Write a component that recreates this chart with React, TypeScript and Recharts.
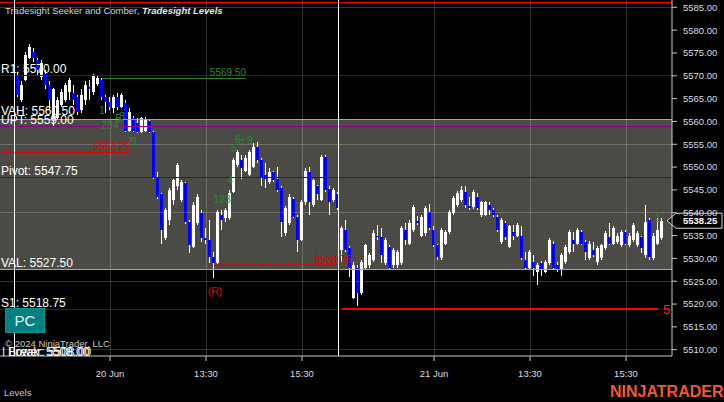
import React from 'react';
import { ComposedChart, Bar, XAxis, YAxis, ReferenceLine, ReferenceArea, ReferenceDot } from 'recharts';

// 5-minute bars, two sessions (20 Jun, 21 Jun)
const opens = [
  5570.25, 5564.75, 5569.0, 5574.0, 5575.25, 5573.5, 5569.75, 5570.5, 5568.0, 5560.25,
  5560.75, 5563.5, 5564.75, 5566.5, 5566.25, 5565.25, 5562.5, 5564.75, 5567.5, 5566.5,
  5568.25, 5569.0, 5565.25, 5564.25, 5563.0, 5565.25, 5563.25, 5564.0, 5558.0, 5560.75,
  5559.75, 5557.75, 5558.0, 5560.0, 5557.75, 5547.75, 5544.0, 5534.5, 5538.5, 5542.75,
  5545.75, 5542.75, 5546.5, 5538.0, 5532.5, 5537.75, 5540.0, 5534.5, 5534.0, 5530.25,
  5529.0, 5539.5, 5538.75, 5538.75, 5544.5, 5550.5, 5551.5, 5549.25, 5548.25, 5550.0,
  5554.5, 5551.5, 5548.25, 5546.75, 5549.0, 5547.5, 5545.5, 5535.5, 5537.75, 5543.0,
  5539.0, 5534.0, 5542.25, 5549.0, 5541.75, 5545.75, 5542.75, 5552.25, 5545.25, 5542.75,
  5544.0,
  5531.75, 5536.25, 5532.25, 5521.25, 5528.0, 5522.5, 5528.0, 5528.5, 5529.75,
  5535.0, 5534.75, 5529.0, 5532.5, 5528.5, 5528.5, 5529.0, 5536.25, 5533.25, 5536.25,
  5538.25, 5535.0, 5535.5, 5540.25, 5536.25, 5533.0, 5530.0, 5533.25, 5535.75, 5540.0,
  5541.75, 5542.75, 5544.5, 5541.5, 5541.25, 5543.5, 5539.5, 5539.5, 5541.75, 5540.5,
  5539.0, 5533.5, 5537.75, 5532.5, 5535.75, 5535.0, 5535.0, 5529.75, 5528.0, 5529.25,
  5527.0, 5529.0, 5527.0, 5529.0, 5533.25, 5528.5, 5527.5, 5529.25, 5531.5, 5534.0,
  5533.25, 5535.75, 5533.5, 5530.0, 5531.75, 5529.25, 5530.0, 5532.25, 5534.75, 5533.25,
  5533.5, 5533.0, 5535.75, 5533.0, 5534.0, 5533.0, 5534.75, 5530.75, 5538.5, 5530.0,
  5533.25, 5534.5,
];

const highs = [
  5570.75, 5568.75, 5575.25, 5577.0, 5576.0, 5574.0, 5573.5, 5571.25, 5568.75, 5567.25,
  5565.25, 5567.0, 5568.5, 5569.5, 5568.0, 5565.75, 5567.0, 5568.75, 5569.0, 5570.5,
  5570.0, 5569.5, 5565.75, 5565.25, 5565.75, 5566.25, 5566.25, 5564.75, 5563.0, 5561.25,
  5560.75, 5561.0, 5561.0, 5560.25, 5558.0, 5549.0, 5544.25, 5541.0, 5545.5, 5547.5,
  5551.0, 5547.25, 5546.75, 5538.5, 5542.25, 5544.0, 5540.5, 5536.75, 5538.5, 5531.5,
  5540.5, 5540.5, 5541.0, 5545.0, 5552.0, 5553.75, 5552.75, 5552.75, 5553.75, 5555.25,
  5555.5, 5552.0, 5551.0, 5549.75, 5549.25, 5550.0, 5545.75, 5541.5, 5544.0, 5543.5,
  5539.5, 5542.75, 5549.75, 5550.0, 5547.5, 5546.0, 5552.75, 5552.75, 5545.75, 5545.5,
  5544.5,
  5537.0, 5538.5, 5532.75, 5529.25, 5528.5, 5529.75, 5533.25, 5531.25, 5536.25,
  5537.25, 5536.75, 5534.5, 5533.0, 5532.25, 5531.75, 5537.0, 5537.75, 5538.5, 5541.75,
  5539.25, 5539.5, 5541.5, 5542.0, 5537.0, 5533.25, 5536.75, 5536.25, 5540.5, 5543.75,
  5544.75, 5545.75, 5545.75, 5543.5, 5545.0, 5544.25, 5542.5, 5542.5, 5542.25, 5541.0,
  5539.5, 5538.75, 5538.25, 5537.25, 5537.25, 5537.75, 5537.0, 5531.5, 5531.75, 5530.75,
  5529.0, 5529.5, 5529.75, 5534.5, 5533.75, 5529.25, 5531.25, 5533.0, 5536.25, 5535.75,
  5536.75, 5536.25, 5534.0, 5533.75, 5533.5, 5532.75, 5533.25, 5536.0, 5537.75, 5537.0,
  5535.5, 5536.25, 5536.25, 5535.5, 5537.75, 5536.0, 5535.0, 5541.75, 5538.75, 5535.5,
  5538.75, 5538.75,
];

const lows = [
  5565.25, 5564.25, 5568.75, 5573.75, 5573.0, 5570.25, 5569.0, 5567.0, 5562.5, 5558.75,
  5560.25, 5563.25, 5564.25, 5564.75, 5563.5, 5561.5, 5561.75, 5563.5, 5564.75, 5565.75,
  5567.75, 5564.75, 5561.75, 5562.5, 5561.75, 5562.5, 5563.0, 5557.75, 5557.75, 5557.75,
  5557.5, 5557.5, 5557.75, 5557.5, 5547.5, 5543.0, 5533.25, 5534.0, 5537.25, 5541.75,
  5545.0, 5542.25, 5537.5, 5531.25, 5532.25, 5537.25, 5533.5, 5533.25, 5529.0, 5525.75,
  5528.75, 5536.25, 5538.0, 5538.5, 5544.25, 5550.0, 5547.5, 5549.0, 5548.0, 5549.75,
  5551.0, 5545.75, 5545.5, 5546.25, 5546.75, 5544.5, 5534.75, 5535.0, 5537.25, 5538.75,
  5531.5, 5533.75, 5541.75, 5539.5, 5541.25, 5542.75, 5542.5, 5544.5, 5539.5, 5542.25,
  5540.5,
  5529.25, 5531.5, 5526.0, 5521.0, 5519.5, 5522.0, 5527.5, 5528.0, 5529.25,
  5534.0, 5529.0, 5528.5, 5527.5, 5528.0, 5528.0, 5528.5, 5533.0, 5533.0, 5535.75,
  5537.25, 5534.75, 5535.0, 5536.25, 5532.5, 5529.75, 5529.75, 5533.0, 5535.25, 5539.5,
  5541.25, 5542.25, 5541.0, 5540.5, 5540.75, 5540.5, 5539.0, 5539.25, 5539.5, 5539.0,
  5535.75, 5533.25, 5534.0, 5532.25, 5534.0, 5534.75, 5529.75, 5527.5, 5527.5, 5526.25,
  5524.25, 5526.25, 5526.75, 5528.5, 5527.75, 5527.0, 5526.25, 5528.75, 5531.0, 5531.5,
  5533.0, 5533.0, 5529.75, 5529.75, 5530.25, 5528.5, 5529.75, 5531.75, 5533.0, 5533.0,
  5533.25, 5532.5, 5533.0, 5532.5, 5533.5, 5532.5, 5531.25, 5530.0, 5529.75, 5529.75,
  5533.0, 5534.0,
];

const closes = [
  5565.75, 5568.0, 5574.5, 5576.25, 5574.0, 5571.25, 5572.75, 5568.0, 5564.75, 5567.0,
  5564.75, 5566.5, 5568.0, 5569.0, 5564.75, 5562.0, 5565.75, 5568.0, 5567.0, 5570.25,
  5569.5, 5565.25, 5564.25, 5563.25, 5565.25, 5563.25, 5565.75, 5558.0, 5562.0, 5558.0,
  5557.75, 5560.75, 5560.25, 5557.75, 5547.75, 5543.5, 5536.25, 5540.5, 5545.0, 5547.25,
  5550.5, 5546.75, 5538.0, 5533.0, 5541.75, 5543.5, 5534.5, 5534.0, 5530.25, 5529.0,
  5540.25, 5538.5, 5540.5, 5544.25, 5551.5, 5553.25, 5549.75, 5552.0, 5553.25, 5554.5,
  5551.5, 5547.75, 5547.5, 5549.0, 5547.25, 5545.0, 5538.0, 5541.0, 5543.5, 5539.0,
  5534.0, 5542.25, 5549.25, 5542.25, 5547.25, 5544.0, 5552.25, 5545.0, 5542.25, 5545.0,
  5541.0,
  5536.75, 5531.75, 5528.0, 5528.5, 5522.5, 5529.25, 5533.0, 5530.75, 5535.5,
  5534.75, 5530.75, 5534.0, 5528.0, 5531.75, 5531.5, 5536.75, 5534.0, 5537.75, 5541.25,
  5537.75, 5539.0, 5541.0, 5536.75, 5533.0, 5530.25, 5536.25, 5535.75, 5540.25, 5543.25,
  5544.25, 5545.0, 5541.75, 5541.0, 5544.5, 5541.0, 5542.25, 5542.25, 5540.5, 5539.5,
  5536.25, 5538.5, 5534.75, 5537.0, 5535.0, 5537.25, 5530.0, 5528.0, 5531.5, 5528.0,
  5528.5, 5527.5, 5529.25, 5534.0, 5528.0, 5527.5, 5530.75, 5532.5, 5535.75, 5533.25,
  5536.25, 5533.25, 5531.5, 5533.25, 5530.75, 5532.25, 5533.0, 5535.5, 5533.25, 5536.75,
  5535.0, 5535.75, 5533.25, 5535.0, 5537.25, 5535.5, 5532.25, 5538.0, 5530.25, 5535.0,
  5536.25, 5538.25,
];

// x axis labels (bar numbers)
const tickBars = [23, 47, 71, 104, 128, 152];
const tickLabels = ['20 Jun', '13:30', '15:30', '21 Jun', '13:30', '15:30'];
const sessionLineBars = [-1, 80];

// price axis
const priceTicks = [5510, 5515, 5520, 5525, 5530, 5535, 5540, 5545, 5550, 5555, 5560, 5565, 5570, 5575, 5580, 5585];
const gridPrices = [5510, 5525, 5540, 5555, 5570, 5585];

// Tradesight levels
const levelNames = ['R1', 'VAH', 'UPT', 'Pivot', 'VAL', 'S1'];
const levelValues = [5570, 5560.5, 5559, 5547.75, 5527.5, 5518.75];
const topLevel = 5586;

// Seeker / Comber marks
const seekerBars = [21, 23, 25, 26, 28, 29, 51, 53, 54, 55, 56, 58, 160];
const seekerPrices = [5562.5, 5559.25, 5560.75, 5561.25, 5555.75, 5555.75, 5543.0, 5547.25, 5554.25, 5556.25, 5555.25, 5556.0, 5538.75];
const seekerTexts = ['1', '234', '5', '8', '7', '9', '123', '4', '5', '6', '7', '9', '1'];
const reversalBar = 49;
const reversalPrice = 5522.75;

const comberLevel = 5569.5;
const comberFrom = 21;
const comberTo = 57;
const stopLevel = 5553.25;
const stopTo = 28;
const dashLevel = 5528.75;
const dashFrom = 50;
const dashTo = 80;
const targetLevel = 5519;
const targetFrom = 81;
const targetTo = 160;

const LEAD = 4;
const SLOTS = 168;
const FONT = 'Arial, "Liberation Sans", sans-serif';
const GRID = 'rgba(255,255,255,0.2)';
const BLUE = '#0c12d8';

const LEVEL_STYLE: Record<string, { color: string; dy: number }> = {
  R1: { color: BLUE, dy: -2.5 },
  VAH: { color: '#00eef0', dy: -4.5 },
  UPT: { color: '#8a008a', dy: -2.5 },
  Pivot: { color: BLUE, dy: -2.5 },
  VAL: { color: '#00eef0', dy: -2.5 },
  S1: { color: BLUE, dy: -2.5 },
};

const rows = Array.from({ length: SLOTS }, (_, i) => {
  const k = i - LEAD;
  if (k < 0 || k >= opens.length) return { i };
  return { i, o: opens[k], h: highs[k], l: lows[k], c: closes[k], range: [lows[k], highs[k]] };
});

const Candle = (props: any) => {
  const { x, y, width, height, payload } = props;
  if (!payload || payload.o == null) return null;
  const { o, h, l, c } = payload;
  const top = Math.min(y, y + height);
  const hgt = Math.abs(height);
  const k = h === l ? 0 : hgt / (h - l);
  const cx = Math.round(x + width / 2) - 1;
  const bTop = top + (h - Math.max(o, c)) * k;
  const bBot = top + (h - Math.min(o, c)) * k;
  return (
    <g shapeRendering="crispEdges">
      <rect x={cx} y={top} width={1} height={Math.max(hgt, 1)} fill="#ffffff" />
      <rect x={cx - 1} y={bTop} width={3} height={Math.max(bBot - bTop, 1)} fill={c >= o ? '#ffffff' : '#0000ff'} />
    </g>
  );
};

// text placed relative to a reference element's box
type Side = 'left' | 'right' | 'center' | 'after';
const tag = (text: string, color: string, size: number, side: Side, dx: number, dy: number) =>
  (p: any) => {
    const vb = p.viewBox || { x: 0, y: 0, width: 0 };
    const right = vb.x + (vb.width || 0);
    const x = side === 'right' || side === 'after' ? right + dx : vb.x + dx;
    const anchor = side === 'right' ? 'end' : side === 'center' ? 'middle' : 'start';
    return (
      <text x={x} y={vb.y + dy} fill={color} fontSize={size} fontFamily={FONT} textAnchor={anchor}>
        {text}
      </text>
    );
  };

const PriceTag = (p: any) => {
  const vb = p.viewBox || { x: 0, y: 0, width: 0 };
  const x0 = vb.x + vb.width;
  const y = vb.y;
  const pts = `${x0 - 5},${y} ${x0 + 4},${y - 7.5} ${x0 + 50},${y - 7.5} ${x0 + 50},${y + 7.5} ${x0 + 4},${y + 7.5}`;
  return (
    <g>
      <polygon points={pts} fill="#000" stroke="#d8d8d8" strokeWidth={1} />
      <text x={x0 + 11} y={y + 3.5} fill="#fff" fontSize={9.5} fontWeight="bold" fontFamily={FONT}>
        {closes[closes.length - 1].toFixed(2)}
      </text>
    </g>
  );
};

export default function App() {
  const tickIdx = tickBars.map((b) => b + LEAD);
  return (
    <div style={{ position: 'relative', width: 724, height: 402, background: '#000', fontFamily: FONT, overflow: 'hidden' }}>
      <style>{'body{margin:0;background:#000}'}</style>
      <ComposedChart width={724} height={402} data={rows} margin={{ top: 0, right: 0, bottom: 0, left: 0 }}>
        <XAxis
          dataKey="i"
          type="category"
          ticks={tickIdx}
          interval={0}
          height={46}
          tickFormatter={(v: number) => tickLabels[tickIdx.indexOf(v)] ?? ''}
          tick={{ fill: '#d8dde6', fontSize: 9.5, fontFamily: FONT }}
          tickSize={5}
          tickMargin={9}
          axisLine={{ stroke: '#c8c8c8' }}
          tickLine={{ stroke: '#c8c8c8' }}
        />
        <YAxis
          orientation="right"
          type="number"
          width={52}
          domain={[5508.62, 5586.6]}
          allowDataOverflow
          ticks={priceTicks}
          interval={0}
          tickFormatter={(v: number) => v.toFixed(2)}
          tick={{ fill: '#d8dde6', fontSize: 9.5, fontFamily: FONT }}
          tickSize={5}
          tickMargin={6}
          axisLine={{ stroke: '#c8c8c8' }}
          tickLine={{ stroke: '#c8c8c8' }}
        />

        <ReferenceArea y1={levelValues[4]} y2={levelValues[1]} fill="#4b4a44" fillOpacity={1} stroke="none" />

        {gridPrices.map((g) => (
          <ReferenceLine key={`gy${g}`} y={g} stroke={GRID} strokeWidth={1} shapeRendering="crispEdges" />
        ))}
        {tickIdx.map((t) => (
          <ReferenceLine key={`gx${t}`} x={t} stroke={GRID} strokeWidth={1} shapeRendering="crispEdges" />
        ))}

        <ReferenceLine y={topLevel} stroke="#ff0000" strokeWidth={1} shapeRendering="crispEdges" />

        {levelNames.map((n, j) => (
          <ReferenceLine
            key={n}
            y={levelValues[j]}
            stroke={LEVEL_STYLE[n].color}
            strokeWidth={1}
            shapeRendering="crispEdges"
            label={tag(`${n}: ${levelValues[j].toFixed(2)}`, '#ffffff', 12, 'left', 1, LEVEL_STYLE[n].dy)}
          />
        ))}

        <ReferenceLine
          segment={[{ x: comberFrom + LEAD, y: comberLevel }, { x: comberTo + LEAD, y: comberLevel }]}
          stroke="#228a22"
          strokeWidth={1}
          shapeRendering="crispEdges"
          label={tag(comberLevel.toFixed(2), '#2a8a2a', 10, 'right', 0, -2)}
        />
        <ReferenceLine
          segment={[{ x: 0, y: stopLevel }, { x: stopTo + LEAD, y: stopLevel }]}
          stroke="#e00000"
          strokeWidth={1}
          shapeRendering="crispEdges"
          label={tag(stopLevel.toFixed(2), '#e00000', 10, 'right', 0, -2)}
        />
        <ReferenceLine
          segment={[{ x: dashFrom + LEAD, y: dashLevel }, { x: dashTo + LEAD, y: dashLevel }]}
          stroke="#e00000"
          strokeWidth={1}
          strokeDasharray="3 2"
          shapeRendering="crispEdges"
          label={tag(dashLevel.toFixed(2), '#e00000', 10, 'right', 13, -1.5)}
        />
        <ReferenceLine
          segment={[{ x: targetFrom + LEAD, y: targetLevel }, { x: targetTo + LEAD, y: targetLevel }]}
          stroke="#ff0000"
          strokeWidth={2}
          shapeRendering="crispEdges"
          label={tag('5', '#ff2020', 13, 'after', 5, 5)}
        />

        {sessionLineBars.map((s) => (
          <ReferenceLine key={`s${s}`} x={s + LEAD} stroke="#ffffff" strokeWidth={1} shapeRendering="crispEdges" />
        ))}

        <Bar dataKey="range" shape={Candle} isAnimationActive={false} />

        {seekerBars.map((b, j) => (
          <ReferenceDot
            key={`sk${j}`}
            x={b + LEAD}
            y={seekerPrices[j]}
            r={0}
            fill="none"
            stroke="none"
            label={tag(seekerTexts[j], '#2a8a2a', 10.5, 'center', 0, 4)}
          />
        ))}
        <ReferenceDot
          x={reversalBar + LEAD}
          y={reversalPrice}
          r={0}
          fill="none"
          stroke="none"
          label={tag('(R)', '#e00000', 10.5, 'center', 1, 4)}
        />

        <ReferenceLine y={closes[closes.length - 1]} stroke="none" label={PriceTag} />
      </ComposedChart>

      <div style={{ position: 'absolute', left: 5, top: 5.5, fontSize: 9.5, lineHeight: 1, color: '#d4d4d4', whiteSpace: 'nowrap' }}>
        Tradesight Seeker and Comber, <span style={{ fontStyle: 'italic', fontWeight: 'bold', color: '#e8e8e8' }}>Tradesight Levels</span>
      </div>

      <div
        style={{
          position: 'absolute', left: 5, top: 308, width: 40, height: 25, background: '#008080',
          border: '1px solid #0d9292', boxSizing: 'border-box', color: '#e6f4f4', fontSize: 15,
          lineHeight: '23px', textAlign: 'center',
        }}
      >
        PC
      </div>

      <div style={{ position: 'absolute', left: 5, top: 339, fontSize: 9.5, lineHeight: 1, color: '#c8c8c8', whiteSpace: 'nowrap' }}>
        © 2024 NinjaTrader, LLC
      </div>

      <div style={{ position: 'absolute', left: 0, top: 346, width: 120, height: 10, overflow: 'hidden', color: '#fff', fontSize: 12, lineHeight: 1, whiteSpace: 'nowrap' }}>
        <span style={{ position: 'absolute', left: 2, top: 0 }}>| Lower: 5508.00</span>
        <span style={{ position: 'absolute', left: 8, top: 0 }}>Break: 5508.00</span>
      </div>

      <div style={{ position: 'absolute', left: 4, top: 388, fontSize: 9.5, lineHeight: 1, color: '#c8c8c8' }}>Levels</div>

      <div style={{ position: 'absolute', left: 610, top: 383.5, fontSize: 16, lineHeight: 1, fontWeight: 'bold', color: '#ee5a2f', whiteSpace: 'nowrap' }}>
        NINJATRADER
      </div>
    </div>
  );
}
